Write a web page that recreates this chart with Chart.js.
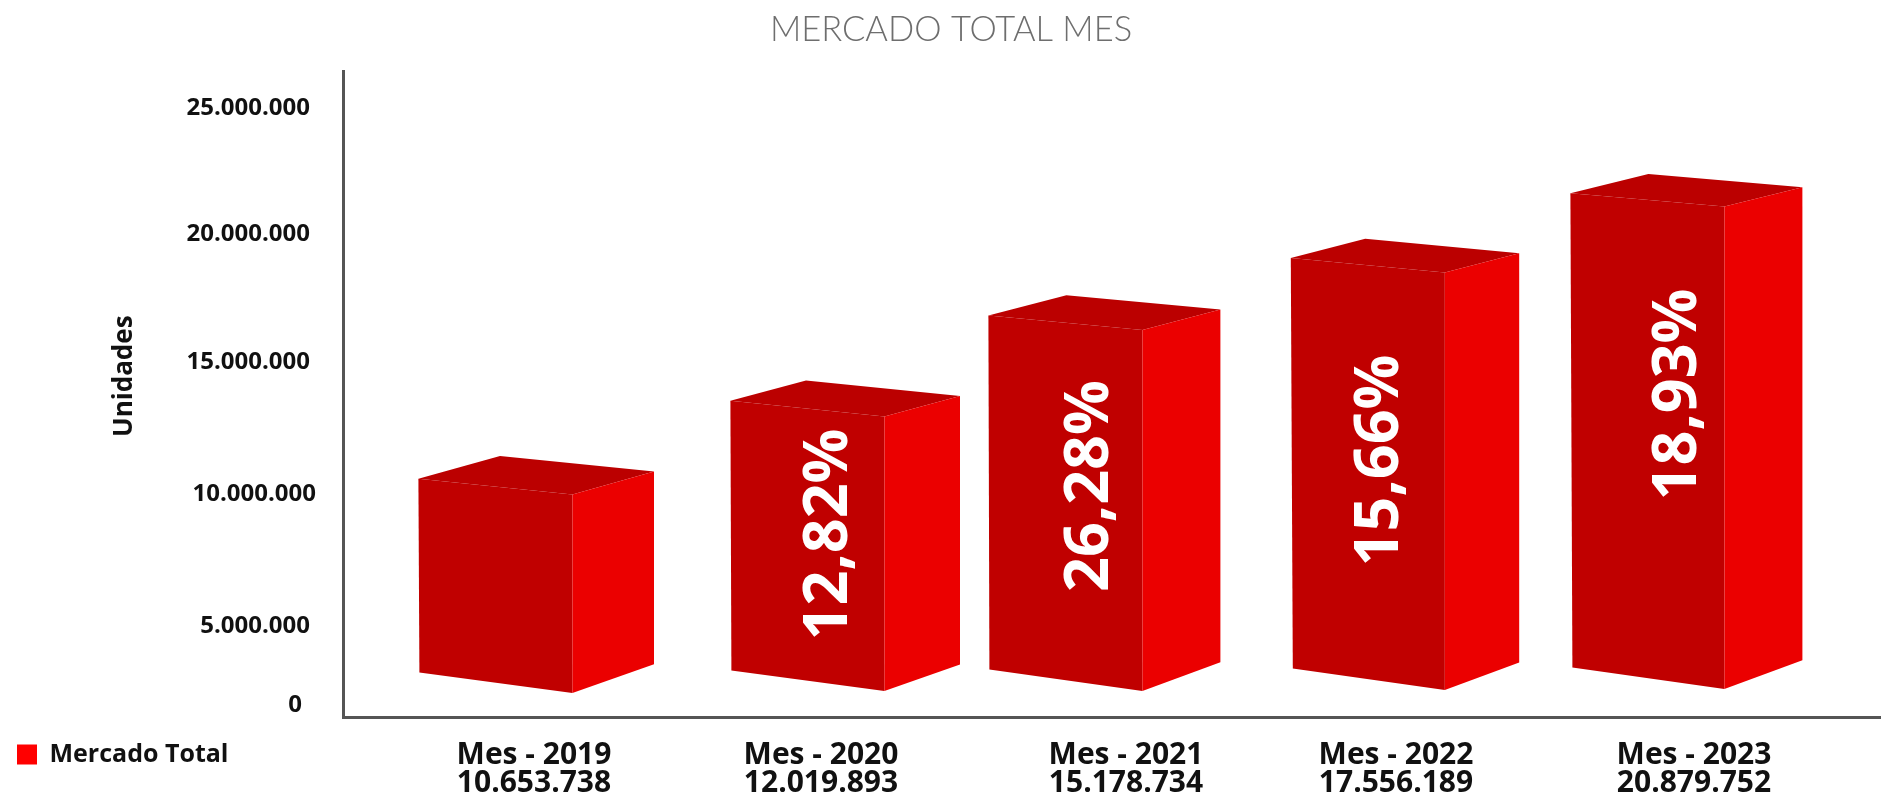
<!DOCTYPE html>
<html><head><meta charset="utf-8">
<style>html,body{margin:0;padding:0;background:#fff}canvas{display:block}</style>
<script src="https://cdn.jsdelivr.net/npm/chart.js@4/dist/chart.umd.js"></script>
</head><body>
<canvas id="c" width="1881" height="800"></canvas>
<script>
// ---- data ----
const categories = ['Mes - 2019','Mes - 2020','Mes - 2021','Mes - 2022','Mes - 2023'];
const values = [10653738, 12019893, 15178734, 17556189, 20879752];
const growthLabels = ['', '12,82%', '26,28%', '15,66%', '18,93%'];
const yTickValues = [0, 5000000, 10000000, 15000000, 20000000, 25000000];
const seriesName = 'Mercado Total';
const chartTitle = 'MERCADO TOTAL MES';
const yTitle = 'Unidades';

// ---- layout of the (non-linear, pseudo-3D) picture ----
const yTickPx   = [705, 626, 494, 362, 234, 108];
const yTickNudge= [-8, 0, 6, 0, 0, 0];
const barTopPx  = [494.4, 416.4, 330, 272.4, 206.4];
const barBasePx = 691;
const xLabelPx  = [534, 821, 1126, 1396, 1694];
const xBarPx    = [495.4, 807.4, 1065.4, 1367.8, 1647.4];
const sideDx    = [81.6, 75.6, 78, 74.4, 78];
const sideRise  = [22.8, 20.4, 20.4, 19.2, 19.2];
const sideBaseRise = [28.8, 26.4, 28.8, 27.6, 28.8];
const topLeftRise  = [15.6, 15.6, 14.4, 14.4, 13.2];
const baseLeftRise = [20.4, 20.4, 21.6, 21.6, 21.6];
const baseAdjust   = [2, 0, 0, -1, -2];
const baseInset    = [1, 1, 1, 2, 2];
const labelDx = [0, 22.6, 25.6, 13.2, 31.6];
const labelDy = [0, 118, 156, 188, 188];

const FONT = '"Open Sans"';
const fmt = v => String(v).replace(/\B(?=(\d{3})+(?!\d))/g, '.');

const { Chart, LinearScale, CategoryScale, BarController, BarElement, Title, Legend, Tooltip } = window.Chart;

// linear scale whose value-to-pixel mapping follows a table of stops
const stopTables = {
  y: yTickValues.map((v, i) => [v, yTickPx[i]]),
  yBars: [[0, barBasePx]].concat(values.map((v, i) => [v, barTopPx[i]]))
};
class WarpedScale extends LinearScale {
  static id = 'warped';
  static defaults = LinearScale.defaults;
  getPixelForValue(value) {
    const s = stopTables[this.id];
    let k = 0;
    while (k < s.length - 2 && value > s[k + 1][0]) k++;
    const [v0, p0] = s[k], [v1, p1] = s[k + 1];
    return p0 + (value - v0) / (v1 - v0) * (p1 - p0);
  }
  getValueForPixel(px) {
    const s = stopTables[this.id];
    let k = 0;
    while (k < s.length - 2 && px < s[k + 1][1]) k++;
    const [v0, p0] = s[k], [v1, p1] = s[k + 1];
    return v0 + (px - p0) / (p1 - p0) * (v1 - v0);
  }
  _calculatePadding() { this.paddingLeft = this.paddingRight = this.paddingTop = this.paddingBottom = 0; }
  _computeLabelItems(area) {
    const items = super._computeLabelItems(area);
    if (this.id === 'y') items.forEach((it, i) => { it.options.translation[0] += yTickNudge[i] || 0; });
    return items;
  }
  drawTitle() {
    const ctx = this.ctx;
    ctx.save(); ctx.translate(0, -18); super.drawTitle(); ctx.restore();
  }
}
// category scale whose categories sit at listed pixels
const pinTables = { x: xLabelPx, xBars: xBarPx };
class PinnedCategory extends CategoryScale {
  static id = 'pinned';
  static defaults = CategoryScale.defaults;
  getPixelForValue(value, index) {
    if (typeof value !== 'number') value = this.parse(value, index);
    return pinTables[this.id][value];
  }
  _calculatePadding() { this.paddingLeft = this.paddingRight = this.paddingTop = this.paddingBottom = 0; }
  _computeLabelArea() { return undefined; }
}
// bar element painted as a box: front, top and side faces
class Box3D extends BarElement {
  static id = 'box3d';
  static defaults = BarElement.defaults;
  static defaultRoutes = BarElement.defaultRoutes;
  draw(ctx) {
    const i = this.boxIndex;
    const { x, y, base, width } = this.getProps(['x', 'y', 'base', 'width']);
    const L = x - width / 2, R = x + width / 2, B = base + baseAdjust[i];
    const poly = (color, pts) => {
      ctx.fillStyle = color; ctx.beginPath();
      pts.forEach((p, n) => n ? ctx.lineTo(p[0], p[1]) : ctx.moveTo(p[0], p[1]));
      ctx.closePath(); ctx.fill();
    };
    const dx = sideDx[i], r = sideRise[i], tl = y - topLeftRise[i];
    ctx.save();
    poly('#c00000', [[L, tl], [R, y], [R, B], [L + baseInset[i], B - baseLeftRise[i]]]);
    poly('#bb0000', [[L, tl], [L + dx, tl - r], [R + dx, y - r], [R, y]]);
    poly('#eb0000', [[R, y], [R + dx, y - r], [R + dx, B - sideBaseRise[i]], [R, B]]);
    ctx.restore();
  }
}
class Bar3DController extends BarController {
  static id = 'bar3d';
  static defaults = { ...BarController.defaults, dataElementType: 'box3d' };
  static overrides = BarController.overrides;
  updateElements(bars, start, count, mode) {
    super.updateElements(bars, start, count, mode);
    for (let i = start; i < start + count; i++) bars[i].boxIndex = i;
  }
}
Chart.register(LinearScale, CategoryScale, WarpedScale, PinnedCategory, Box3D, Bar3DController, Title, Legend, Tooltip);

const growthPlugin = {
  id: 'growthLabels',
  afterDatasetsDraw(chart) {
    const ctx = chart.ctx, meta = chart.getDatasetMeta(0);
    growthLabels.forEach((t, i) => {
      if (!t) return;
      const el = meta.data[i];
      ctx.save();
      ctx.translate(el.x + labelDx[i], el.y + labelDy[i]);
      ctx.rotate(-Math.PI / 2);
      ctx.font = `700 61px ${FONT}`;
      ctx.fillStyle = '#fff';
      ctx.textAlign = 'center';
      ctx.textBaseline = 'middle';
      ctx.fillText(t, 0, 0);
      ctx.restore();
    });
  }
};

new Chart(document.getElementById('c'), {
  type: 'bar3d',
  plugins: [growthPlugin],
  data: {
    labels: categories,
    datasets: [{
      label: seriesName,
      data: values,
      backgroundColor: '#ff0000',
      borderWidth: 0,
      barThickness: 154,
      xAxisID: 'xBars',
      yAxisID: 'yBars'
    }]
  },
  options: {
    responsive: false,
    animation: false,
    layout: { autoPadding: false, padding: { left: 12, right: -9, top: 0, bottom: 23 } },
    plugins: {
      title: {
        display: true, text: chartTitle, color: '#6e6e6e',
        font: { family: 'Lato', size: 34.5, weight: '300', lineHeight: 1.2 },
        padding: { top: 9, bottom: 21 }
      },
      legend: {
        display: true, position: 'bottom', align: 'start',
        labels: {
          boxWidth: 20, boxHeight: 20, padding: 5, color: '#111',
          font: { family: FONT, size: 25, weight: '700' }
        }
      },
      tooltip: { enabled: false }
    },
    scales: {
      x: {
        type: 'pinned', position: 'bottom',
        grid: { display: false, drawTicks: false },
        border: { display: true, color: '#555', width: 3 },
        afterFit: s => { s.height = 20; },
        ticks: {
          autoSkip: false, maxRotation: 0, minRotation: 0, padding: 25, color: '#111',
          font: { family: FONT, size: 30, weight: '700', lineHeight: 0.93 },
          callback: (v, i) => [categories[i], fmt(values[i])]
        }
      },
      y: {
        type: 'warped', position: 'left', min: 0, max: 26300000,
        grid: { display: false, drawTicks: false },
        border: { display: true, color: '#555', width: 3 },
        afterFit: s => { s.width = 331; },
        afterBuildTicks: s => { s.ticks = yTickValues.map(v => ({ value: v })); },
        title: {
          display: true, text: yTitle, color: '#111',
          font: { family: FONT, size: 26, weight: '700' },
          padding: { top: 97, bottom: 0 }
        },
        ticks: {
          padding: 33, color: '#111', autoSkip: false,
          font: { family: FONT, size: 24, weight: '700' },
          callback: v => fmt(v)
        }
      },
      xBars: { type: 'pinned', position: 'bottom', display: false },
      yBars: { type: 'warped', position: 'left', display: false, min: 0, max: 26300000 }
    }
  }
});
</script>
</body></html>
